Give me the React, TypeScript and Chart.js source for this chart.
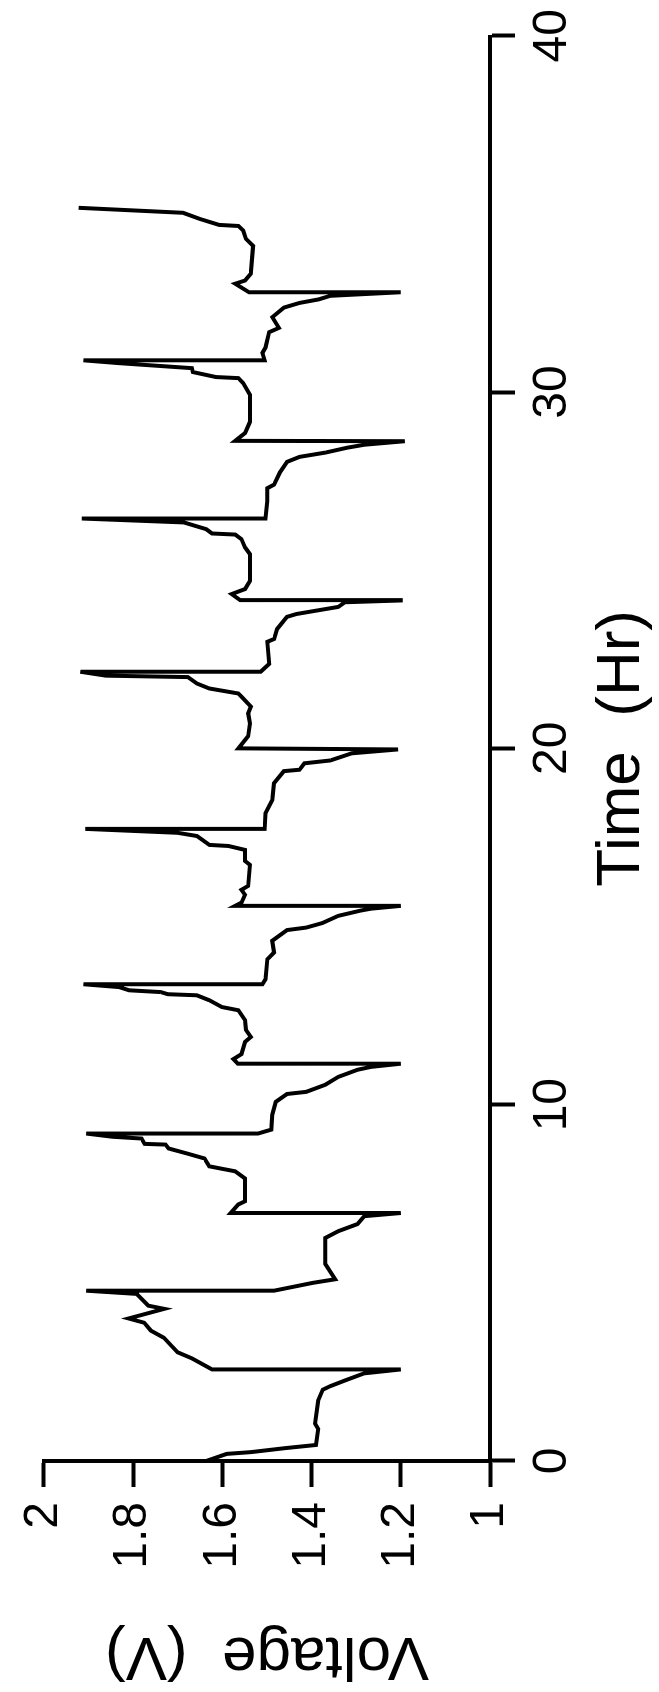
import React, { useEffect, useRef } from "react";
import { Chart, registerables } from "chart.js";

Chart.register(...registerables);

// ---- data (time in hours, voltage in volts) ----
const timeHr: number[] = [
  0, 0.2, 0.25, 0.36, 0.45, 0.9, 1.05, 1.7, 2.0, 2.1, 2.26, 2.46, 2.57,
  2.57, 2.88, 3.05, 3.46, 3.66, 3.88, 4.0, 4.27, 4.36, 4.69, 4.78,
  4.78, 5.0, 5.1, 5.53, 6.26, 6.45, 6.65, 6.87, 6.96,
  6.96, 7.2, 7.29, 7.93, 8.13, 8.18, 8.27, 8.49, 8.63, 8.77, 8.88, 8.9, 9.05, 9.1, 9.19,
  9.19, 9.3, 9.72, 10.08, 10.3, 10.36, 10.56, 10.78, 10.98, 11.06, 11.15,
  11.15, 11.28, 11.42, 11.76, 11.9, 12.1, 12.37, 12.65, 12.74, 12.93, 13.07, 13.1, 13.16, 13.21, 13.3, 13.38,
  13.38, 13.52, 14.08, 14.27, 14.6, 14.9, 14.97, 15.1, 15.3, 15.45, 15.5, 15.58,
  15.58, 15.67, 15.89, 16.03, 16.14, 16.73, 16.84, 17.15, 17.26, 17.29, 17.54, 17.63, 17.74,
  17.74, 18.18, 18.55, 19.02, 19.36, 19.4, 19.58, 19.66, 19.86, 19.97,
  20.0, 20.34, 20.7, 20.98, 21.17, 21.45, 21.54, 21.68, 21.82, 22.0, 22.04, 22.15,
  22.15, 22.37, 22.99, 23.07, 23.35, 23.69, 23.77, 23.97, 24.1, 24.15,
  24.16, 24.33, 24.47, 24.7, 25.45, 25.64, 25.87, 26.0, 26.03, 26.15, 26.34, 26.45,
  26.45, 26.93, 27.3, 27.4, 27.74, 28.04, 28.18, 28.3, 28.44, 28.52, 28.62,
  28.63, 28.85, 29.16, 29.92, 30.25, 30.39, 30.42, 30.56, 30.67, 30.81, 30.89,
  30.89, 31.1, 31.25, 31.68, 31.8, 32.1, 32.37, 32.5, 32.6, 32.7, 32.8,
  32.8, 33.04, 33.13, 33.32, 34.1, 34.3, 34.53, 34.66, 34.69, 34.86, 35.03, 35.17,
];

const voltageV: number[] = [
  1.636, 1.59, 1.535, 1.46, 1.39, 1.385, 1.392, 1.385, 1.375, 1.358, 1.325, 1.282, 1.2,
  1.623, 1.668, 1.7, 1.731, 1.76, 1.775, 1.81, 1.73, 1.766, 1.792, 1.905,
  1.484, 1.397, 1.347, 1.369, 1.369, 1.34, 1.297, 1.282, 1.2,
  1.581, 1.564, 1.549, 1.549, 1.571, 1.592, 1.629, 1.64, 1.679, 1.72, 1.727, 1.774, 1.781, 1.846, 1.905,
  1.52, 1.49, 1.488, 1.48, 1.455, 1.412, 1.369, 1.34, 1.297, 1.267, 1.2,
  1.565, 1.575, 1.557, 1.549, 1.536, 1.547, 1.549, 1.564, 1.601, 1.629, 1.657, 1.722, 1.738, 1.809, 1.831, 1.911,
  1.51, 1.503, 1.499, 1.484, 1.488, 1.455, 1.412, 1.375, 1.34, 1.289, 1.267, 1.2,
  1.571, 1.557, 1.549, 1.557, 1.542, 1.538, 1.549, 1.549, 1.586, 1.629, 1.657, 1.7, 1.907,
  1.505, 1.503, 1.488, 1.484, 1.462, 1.427, 1.416, 1.358, 1.31, 1.206,
  1.564, 1.542, 1.538, 1.542, 1.536, 1.557, 1.564, 1.629, 1.657, 1.677, 1.861, 1.918,
  1.514, 1.495, 1.499, 1.484, 1.477, 1.455, 1.434, 1.34, 1.325, 1.2,
  1.56, 1.579, 1.549, 1.538, 1.538, 1.549, 1.557, 1.571, 1.623, 1.636, 1.686, 1.915,
  1.503, 1.499, 1.499, 1.484, 1.471, 1.455, 1.427, 1.369, 1.319, 1.282, 1.191,
  1.571, 1.549, 1.538, 1.538, 1.553, 1.564, 1.614, 1.666, 1.668, 1.831, 1.911,
  1.505, 1.51, 1.503, 1.495, 1.473, 1.488, 1.462, 1.427, 1.384, 1.358, 1.2,
  1.54, 1.571, 1.549, 1.536, 1.531, 1.547, 1.553, 1.564, 1.607, 1.651, 1.688, 1.922,
];

const timeTicks: number[] = [0, 10, 20, 30, 40];
const timeTickLabels: string[] = ["0", "10", "20", "30", "40"];
const voltTicks: number[] = [1, 1.2, 1.4, 1.6, 1.8, 2];
const voltTickLabels: string[] = ["1", "1.2", "1.4", "1.6", "1.8", "2"];

const timeTitle = "Time  (Hr)";
const voltTitle = "Voltage  (V)";

const FONT = "'Liberation Sans', Arial, Helvetica, sans-serif";

export default function App() {
  const canvasRef = useRef<HTMLCanvasElement | null>(null);

  useEffect(() => {
    const canvas = canvasRef.current;
    if (!canvas) return;
    const points = timeHr.map((t, i) => ({ x: t, y: voltageV[i] }));
    const chart = new Chart(canvas, {
      type: "line",
      data: {
        datasets: [
          {
            data: points,
            borderColor: "#000",
            borderWidth: 4,
            pointRadius: 0,
            tension: 0,
            fill: false,
          },
        ],
      },
      options: {
        animation: false,
        responsive: false,
        devicePixelRatio: 1,
        layout: { padding: { top: 29, right: 29, left: 0, bottom: 0 } },
        plugins: {
          legend: { display: false },
          tooltip: { enabled: false },
        },
        scales: {
          x: {
            type: "linear",
            position: "bottom",
            min: 0,
            max: 40,
            afterBuildTicks: (s: any) => {
              s.ticks = timeTicks.map((v) => ({ value: v }));
            },
            afterFit: (s: any) => {
              s.height = 169;
            },
            ticks: {
              color: "#000",
              font: { family: FONT, size: 48 },
              padding: 9,
              maxRotation: 0,
              minRotation: 0,
              autoSkip: false,
              callback: (_v: any, i: number) => timeTickLabels[i],
            },
            grid: {
              display: true,
              drawOnChartArea: false,
              drawTicks: true,
              tickLength: 25,
              tickWidth: 4,
              tickColor: "#000",
            },
            border: { display: true, color: "#000", width: 4 },
            title: {
              display: true,
              text: timeTitle,
              color: "#000",
              font: { family: FONT, size: 62, lineHeight: 1 },
              padding: { top: 0, bottom: 6 },
            },
          },
          y: {
            type: "linear",
            position: "left",
            min: 1,
            max: 2,
            afterBuildTicks: (s: any) => {
              s.ticks = voltTicks.map((v) => ({ value: v }));
            },
            afterFit: (s: any) => {
              s.width = 231;
            },
            ticks: {
              color: "#000",
              font: { family: FONT, size: 48 },
              padding: 15,
              autoSkip: false,
              callback: (_v: any, i: number) => voltTickLabels[i],
            },
            grid: {
              display: true,
              drawOnChartArea: false,
              drawTicks: true,
              tickLength: 26,
              tickWidth: 4,
              tickColor: "#000",
            },
            border: { display: true, color: "#000", width: 4 },
            title: {
              display: true,
              text: voltTitle,
              color: "#000",
              font: { family: FONT, size: 62, lineHeight: 1 },
              padding: { top: 6, bottom: 0 },
            },
          },
        },
      },
    });
    return () => chart.destroy();
  }, []);

  return (
    <div
      style={{
        position: "fixed",
        left: 0,
        top: 0,
        width: 659,
        height: 1692,
        overflow: "hidden",
        background: "#fff",
      }}
    >
      <div
        style={{
          position: "absolute",
          left: 0,
          top: 1692,
          width: 1692,
          height: 659,
          transform: "rotate(-90deg)",
          transformOrigin: "0 0",
        }}
      >
        <canvas
          ref={canvasRef}
          width={1692}
          height={659}
          style={{ width: 1692, height: 659, display: "block" }}
        />
      </div>
    </div>
  );
}
